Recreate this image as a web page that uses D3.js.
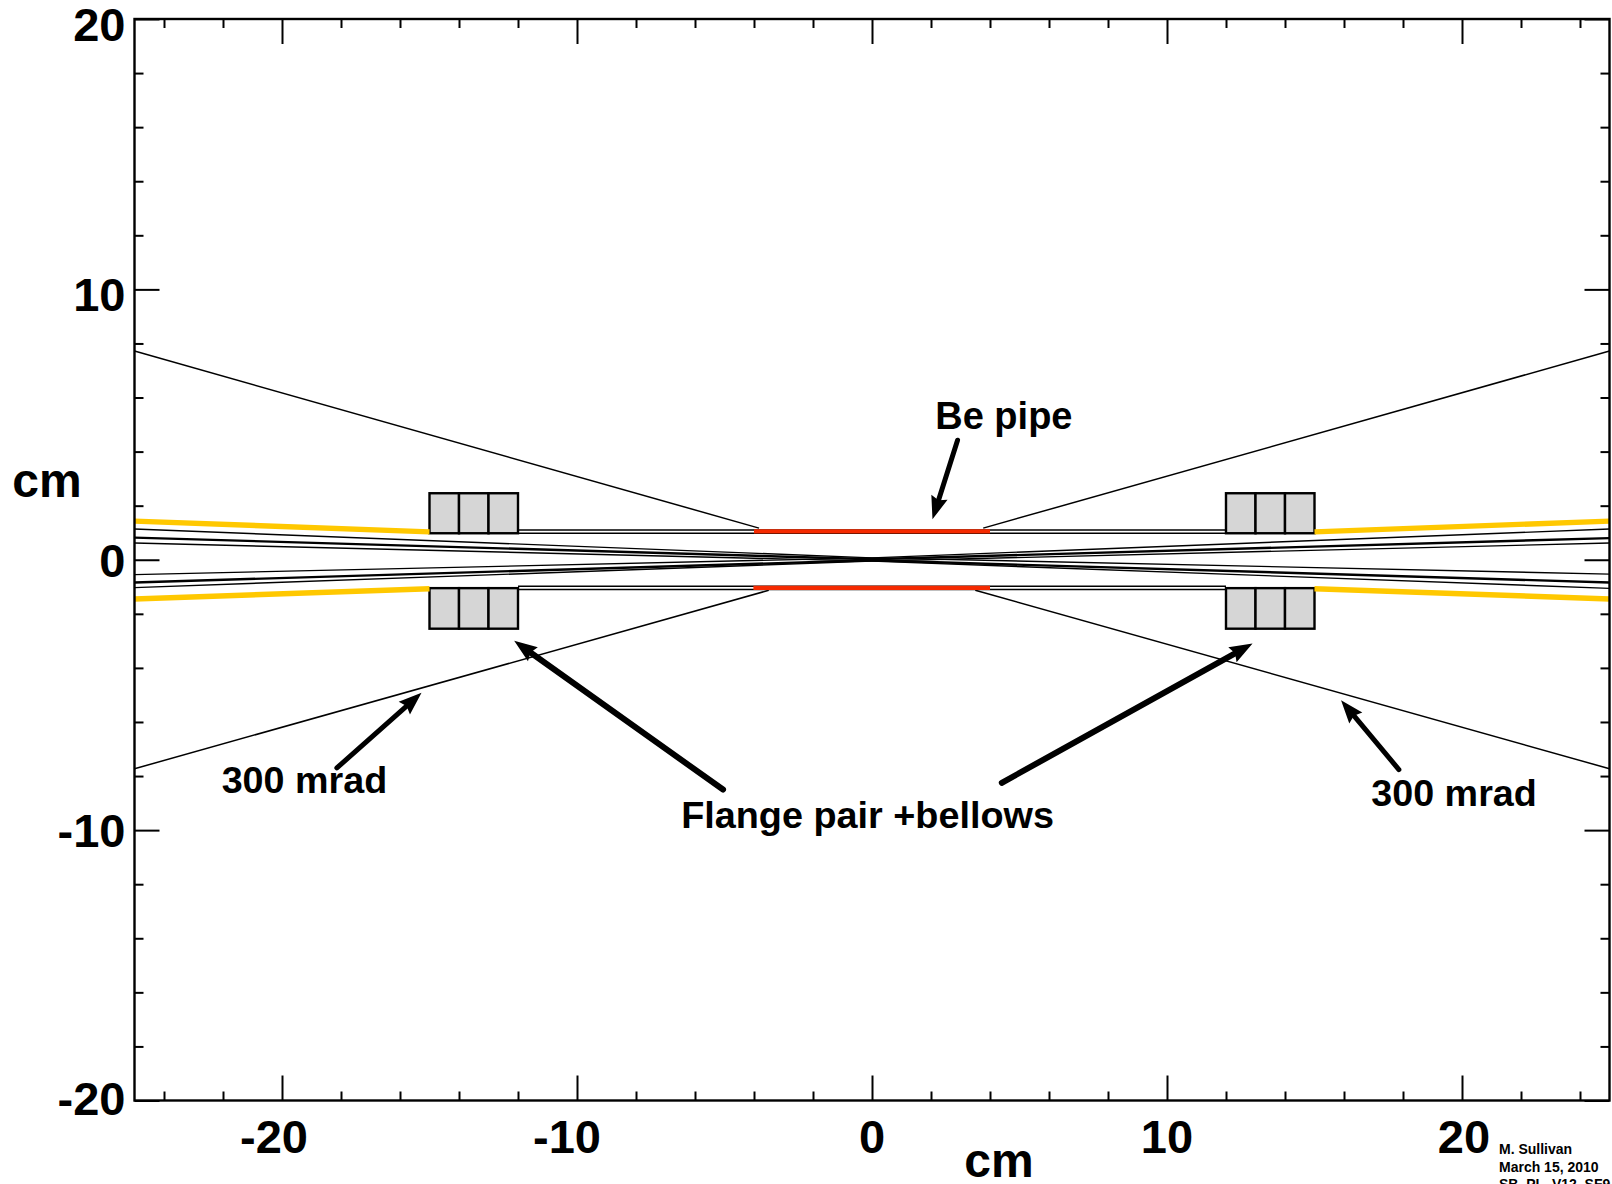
<!DOCTYPE html>
<html><head><meta charset="utf-8">
<script src="https://cdn.jsdelivr.net/npm/d3@7"></script>
<style>
html,body{margin:0;padding:0;background:#fff;overflow:hidden}
svg{display:block}
text{font-family:"Liberation Sans",Arial,sans-serif;font-weight:700;fill:#000}
</style></head><body>
<svg id="chart" width="1612" height="1184"></svg>
<script>
const majorTicks = [-20,-10,0,10,20];
const minorTicksX = [-24,-22,-18,-16,-14,-12,-8,-6,-4,-2,2,4,6,8,12,14,16,18,22,24];
const minorTicksY = [-18,-16,-14,-12,-8,-6,-4,-2,2,4,6,8,12,14,16,18];
const xDomain = [-25,25];
const yDomain = [-20,20];

// beam-stay-clear fans: [x,y] in cm
const fanLines = [
 {w:1.4,pts:[[-25,1.135],[0,0.07]]},
 {w:2.4,pts:[[-25,0.82],[0,0.02]]},
 {w:1.4,pts:[[-25,0.617],[0,-0.05]]},
 {w:1.4,pts:[[-25,-0.55],[0,0.07]]},
 {w:2.4,pts:[[-25,-0.84],[0,-0.02]]},
 {w:1.4,pts:[[-25,-1.03],[0,-0.05]]},
 {w:1.4,pts:[[25,1.135],[0,0.07]]},
 {w:2.4,pts:[[25,0.80],[0,0.02]]},
 {w:1.4,pts:[[25,0.617],[0,-0.05]]},
 {w:1.4,pts:[[25,-0.53],[0,0.07]]},
 {w:2.4,pts:[[25,-0.84],[0,-0.02]]},
 {w:1.4,pts:[[25,-1.06],[0,-0.05]]}
];
const mradLines = [
 [[-25,7.72],[-3.83,1.17]],
 [[25,7.72],[3.77,1.17]],
 [[-25,-7.73],[-3.5,-1.13]],
 [[25,-7.73],[3.5,-1.13]]
];
const yellowPipes = [
 [[-25,1.43],[-15,1.03]],
 [[25,1.43],[15,1.03]],
 [[-25,-1.45],[-15,-1.07]],
 [[25,-1.45],[15,-1.07]]
];
const pipeLines = [
 [[-12,1.1],[12,1.1]],[[-12,0.98],[12,0.98]],
 [[-12,-0.98],[12,-0.98]],[[-12,-1.1],[12,-1.1]]
];
const redPipes = [
 [[-4,1.05],[4,1.05]],
 [[-4.02,-1.04],[4,-1.04]]
];
const flangeX = [[-15,-14],[-14,-13],[-13,-12],[12,13],[13,14],[14,15]];
const flangeY = [[0.98,2.46],[-2.55,-1.05]];

const arrows = [
 {from:[2.9,4.42],to:[2.05,1.5],w:5},
 {from:[-18.14,-7.7],to:[-15.27,-4.92],w:5},
 {from:[-5.05,-8.5],to:[-12.13,-3.0],w:6},
 {from:[4.4,-8.25],to:[12.9,-3.1],w:6},
 {from:[17.86,-7.76],to:[15.9,-5.2],w:5}
];
const labels = [
 {t:"Be pipe",x:4.47,y:4.83,s:38},
 {t:"300 mrad",x:-19.24,y:-8.64,s:37.7},
 {t:"300 mrad",x:19.73,y:-9.1,s:37.7},
 {t:"Flange pair +bellows",x:-0.15,y:-9.92,s:37.8}
];
const stamp = ["M. Sullivan","March 15, 2010","SB_PL_V12_SF9"];

const width=1612,height=1184;
const plot={l:134.5,r:1609.5,t:19,b:1100.5};
const x=d3.scaleLinear().domain(xDomain).range([plot.l,plot.r]);
const y=d3.scaleLinear().domain(yDomain).range([plot.b,plot.t]);
const svg=d3.select("#chart");
const line=d3.line().x(d=>x(d[0])).y(d=>y(d[1]));

// flanges
const fg=svg.append("g");
flangeY.forEach(fy=>{
  fg.selectAll(null).data(flangeX).join("rect")
    .attr("x",d=>x(d[0])).attr("width",d=>x(d[1])-x(d[0]))
    .attr("y",y(fy[1])).attr("height",y(fy[0])-y(fy[1]))
    .attr("fill","#d6d6d6").attr("stroke","#000").attr("stroke-width",2.4);
});
// pipe lines
svg.append("g").selectAll("path").data(pipeLines).join("path")
  .attr("d",line).attr("stroke","#000").attr("stroke-width",1.4).attr("fill","none");
// mrad
svg.append("g").selectAll("path").data(mradLines).join("path")
  .attr("d",line).attr("stroke","#000").attr("stroke-width",1.5).attr("fill","none");
// fans
svg.append("g").selectAll("path").data(fanLines).join("path")
  .attr("d",d=>line(d.pts)).attr("stroke","#000").attr("stroke-width",d=>d.w).attr("fill","none");
// yellow
svg.append("g").selectAll("path").data(yellowPipes).join("path")
  .attr("d",line).attr("stroke","#ffc800").attr("stroke-width",5.4).attr("fill","none");
// red
svg.append("g").selectAll("path").data(redPipes).join("path")
  .attr("d",line).attr("stroke","#f52a00").attr("stroke-width",4.4).attr("fill","none");

// axes
function ax(gen,scale,vals,size,tx,ty){
  const g=svg.append("g").attr("transform",`translate(${tx},${ty})`)
    .call(gen(scale).tickValues(vals).tickSize(size).tickFormat(""));
  g.select(".domain").remove();
  g.selectAll("line").attr("stroke","#000").attr("stroke-width",2);
  g.selectAll("text").remove();
  return g;
}
const majLen=-25,minLen=-9;
ax(d3.axisBottom,x,majorTicks,majLen,0,plot.b);
ax(d3.axisBottom,x,minorTicksX,minLen,0,plot.b);
ax(d3.axisTop,x,majorTicks,majLen,0,plot.t);
ax(d3.axisTop,x,minorTicksX,minLen,0,plot.t);
ax(d3.axisLeft,y,majorTicks,majLen,plot.l,0);
ax(d3.axisLeft,y,minorTicksY,minLen,plot.l,0);
ax(d3.axisRight,y,majorTicks,majLen,plot.r,0);
ax(d3.axisRight,y,minorTicksY,minLen,plot.r,0);
svg.append("rect").attr("x",plot.l).attr("y",plot.t).attr("width",plot.r-plot.l).attr("height",plot.b-plot.t)
  .attr("fill","none").attr("stroke","#000").attr("stroke-width",2.4);

// arrows
arrows.forEach(a=>{
  const [x0,y0,x1,y1]=[x(a.from[0]),y(a.from[1]),x(a.to[0]),y(a.to[1])];
  const ang=Math.atan2(y1-y0,x1-x0),L=23,H=8.5,c=Math.cos(ang),s=Math.sin(ang);
  const bx=x1-L*c,by=y1-L*s;
  const ix=x1-(L-3)*c,iy=y1-(L-3)*s;
  svg.append("path").attr("d",`M${x0},${y0}L${ix},${iy}`).attr("stroke","#000").attr("stroke-width",a.w)
    .attr("stroke-linecap","round").attr("fill","none");
  const nx=-s*H,ny=c*H;
  svg.append("path").attr("d",`M${x1},${y1}L${bx+nx},${by+ny}L${ix},${iy}L${bx-nx},${by-ny}Z`).attr("fill","#000");
});

// labels
svg.append("g").selectAll("text").data(labels).join("text")
  .attr("x",d=>x(d.x)).attr("y",d=>y(d.y)).attr("text-anchor","middle").attr("font-size",d=>d.s).text(d=>d.t);

// tick labels
const tickFont=47;
const xLabelShift={"-20":-8,"-10":-10,"0":0,"10":0,"20":2};
svg.append("g").selectAll("text").data(majorTicks).join("text")
  .attr("x",d=>x(d)+xLabelShift[d]).attr("y",1153).attr("text-anchor","middle").attr("font-size",tickFont).text(d=>d);
const yLabelShift={"20":5,"10":5,"0":0,"-10":0,"-20":-3};
svg.append("g").selectAll("text").data(majorTicks).join("text")
  .attr("x",125.5).attr("y",d=>y(d)+17+yLabelShift[d]).attr("text-anchor","end").attr("font-size",tickFont).text(d=>d);
svg.append("text").attr("x",999).attr("y",1177).attr("text-anchor","middle").attr("font-size",48).text("cm");
svg.append("text").attr("x",47).attr("y",497).attr("text-anchor","middle").attr("font-size",48).text("cm");

// footer stamp
svg.append("g").selectAll("text").data(stamp).join("text")
  .attr("x",1499).attr("y",(d,i)=>1154+i*17.5).attr("font-size",14).text(d=>d);
</script>
</body></html>
